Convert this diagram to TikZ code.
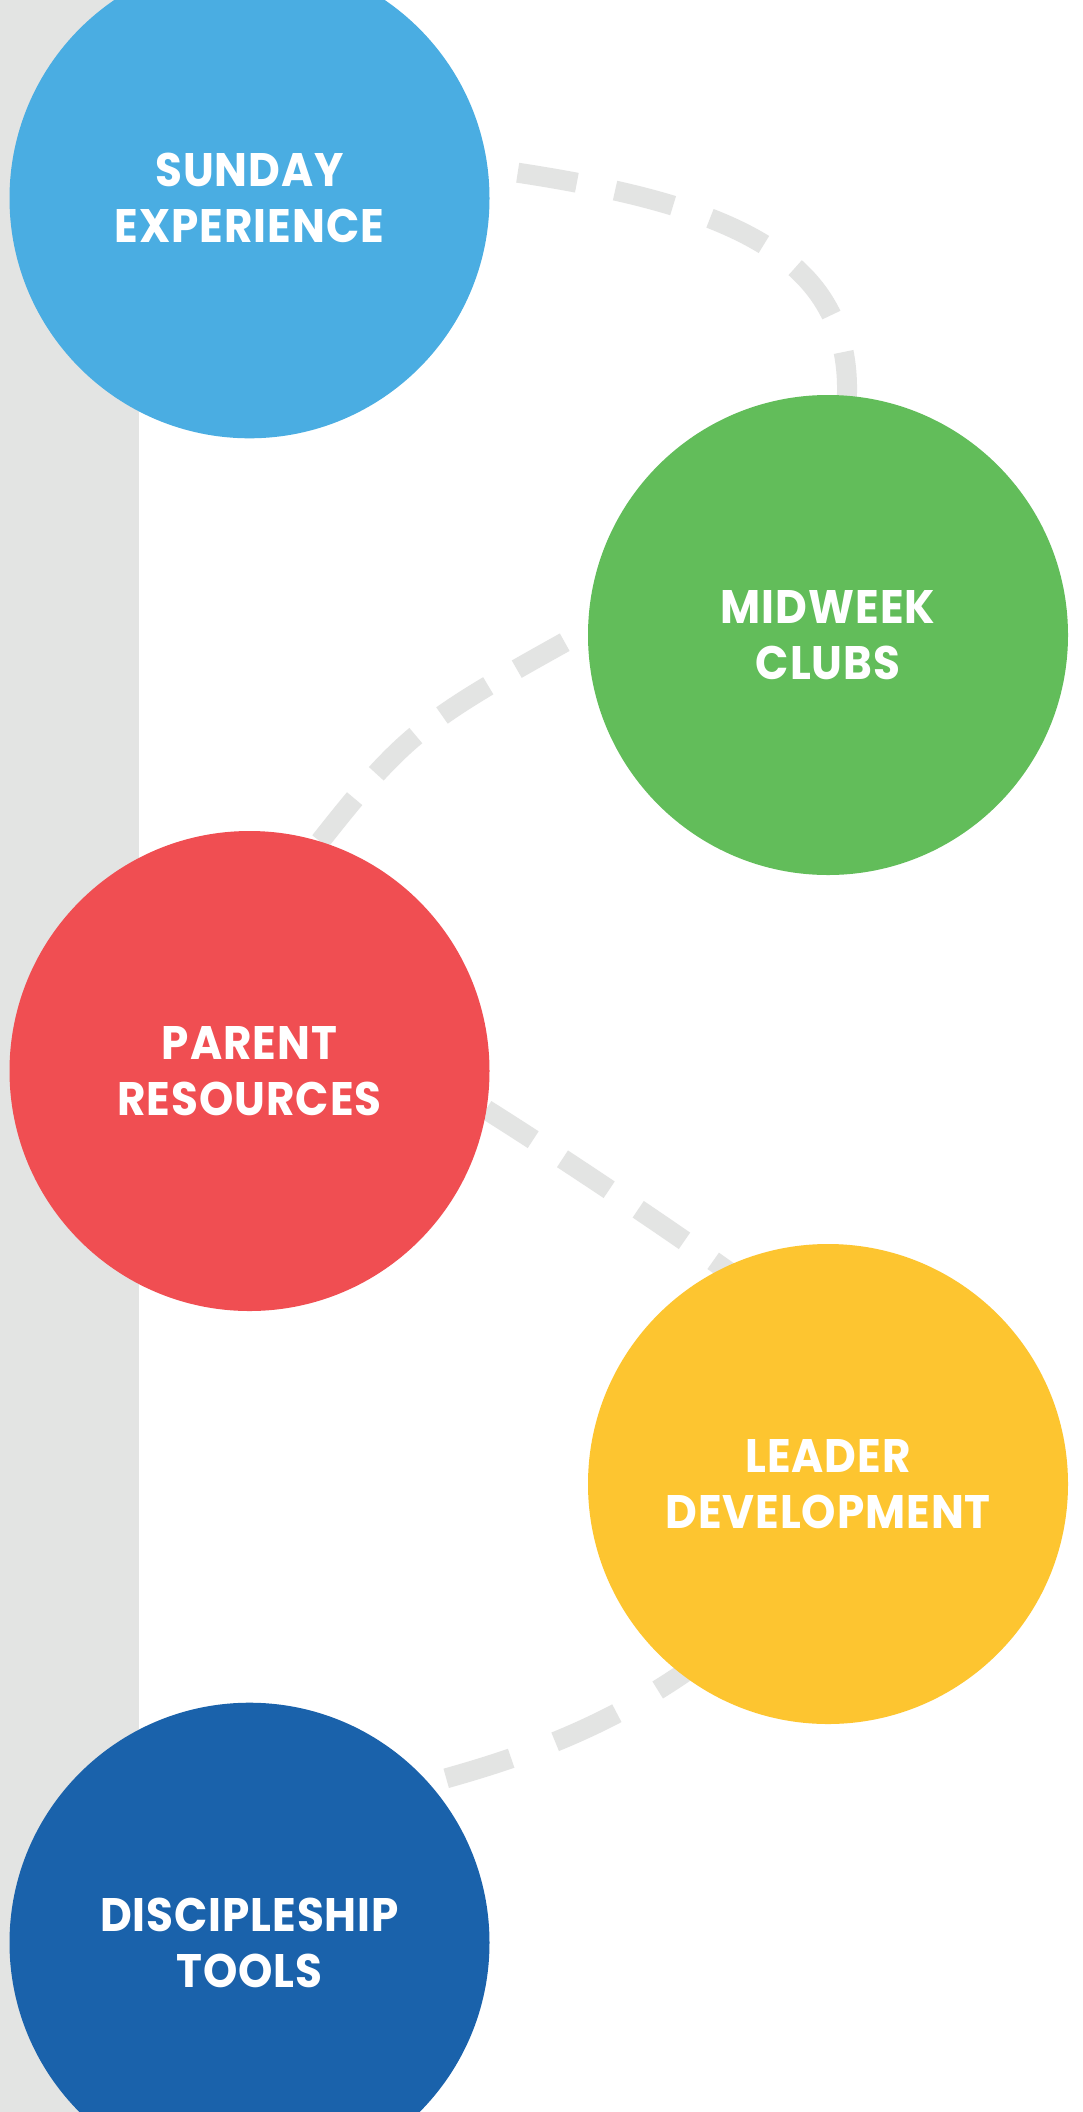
\documentclass[tikz,border=0pt]{standalone}
\usepackage{fontspec}
\newfontfamily\lab{Poppins}[LetterSpace=2, FakeStretch=0.93]
\definecolor{cSky}{HTML}{4AADE2}
\definecolor{cGreen}{HTML}{62BD5A}
\definecolor{cRed}{HTML}{F04E52}
\definecolor{cYellow}{HTML}{FDC530}
\definecolor{cNavy}{HTML}{1A62AB}
\definecolor{cGray}{HTML}{E3E4E3}
\tikzset{
  bubble/.style={circle, minimum size=480pt, inner sep=0pt, draw=none,
    align=center, text=white,
    font=\lab\bfseries\fontsize{47pt}{56pt}\selectfont},
  trail/.style={draw=cGray, line width=20pt, line cap=butt}
}
\begin{document}
\begin{tikzpicture}[x=1pt,y=-1pt]
\useasboundingbox (0,0) rectangle (1083,2112);
\clip (0,0) rectangle (1083,2112);
\fill[white] (0,0) rectangle (1083,2112);
\fill[cGray] (0,0) rectangle (139,2112);

% connector end points
\coordinate (a1) at (517.7,172.7);
\coordinate (a2) at (845,420);
\coordinate (b1) at (564.7,642.2);
\coordinate (b2) at (290,880);
\coordinate (c1) at (486,1109.5);
\coordinate (c2) at (780,1310);
\coordinate (d1) at (446.2,1778.3);
\coordinate (d2) at (740,1630);

% dashed trail
\draw[trail, dash pattern=on 60pt off 39pt] (a1) .. controls (736,206) and (865,260) .. (a2);
\draw[trail, dash pattern=on 55pt off 33pt] (b1) .. controls (407.4,729.7) and (400.7,738) .. (b2);
\draw[trail, dash pattern=on 56pt off 35pt] (c1) .. controls (553.8,1152) and (717.6,1260.4) .. (c2);
\draw[trail, dash pattern=on 68pt off 47pt] (d1) .. controls (540,1752) and (640,1715) .. (d2);

% circles with their labels
\node[bubble, fill=cSky] (sunday) at (249.5,198.3) {SUNDAY\\EXPERIENCE};
\node[bubble, fill=cGreen] (midweek) at (828,635) {MIDWEEK\\CLUBS};
\node[bubble, fill=cRed] (parent) at (249.5,1071) {PARENT\\RESOURCES};
\node[bubble, fill=cYellow] (leader) at (828,1484) {LEADER\\DEVELOPMENT};
\node[bubble, fill=cNavy] (disc) at (249.5,1942.7) {DISCIPLESHIP\\TOOLS};
\end{tikzpicture}
\end{document}
